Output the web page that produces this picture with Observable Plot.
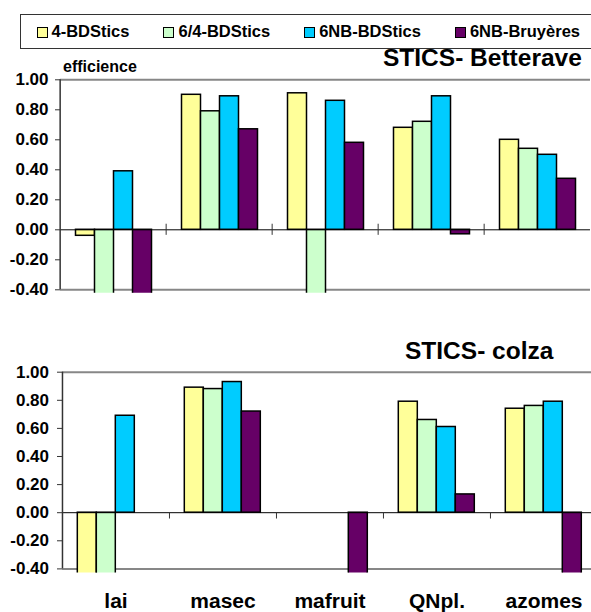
<!DOCTYPE html>
<html>
<head>
<meta charset="utf-8">
<script src="https://cdn.jsdelivr.net/npm/d3@7"></script>
<script src="https://cdn.jsdelivr.net/npm/@observablehq/plot@0.6"></script>
<style>
  body { margin: 0; background: #fff; }
  #page { position: relative; width: 591px; height: 612px; overflow: hidden;
          font-family: "Liberation Sans", Arial, sans-serif; font-weight: bold; color: #000; }
  #page svg { position: absolute; left: 0; }
  .title { position: absolute; white-space: nowrap; line-height: 1; }
  #legend { position: absolute; left: 20px; top: 14px; width: 600px; height: 35px;
            border: 1.5px solid #333; box-sizing: border-box; display: flex; align-items: center;
            padding-left: 15.5px; font-size: 16.5px; }
  .item { display: flex; align-items: center; margin-right: 34px; }
  .sw { width: 9px; height: 9px; border: 1.5px solid #000; margin-right: 4px; margin-top: 1px; }
</style>
</head>
<body>
<div id="page"></div>
<script>
// ---- data ----
const categories = ["lai", "masec", "mafruit", "QNpl.", "azomes"];
const series = ["4-BDStics", "6/4-BDStics", "6NB-BDStics", "6NB-Bruyères"];
const colors = ["#FFFF99", "#CCFFCC", "#00CCFF", "#660066"];
const yTicks = [-0.4, -0.2, 0, 0.2, 0.4, 0.6, 0.8, 1.0];

// STICS- Betterave (values below -0.40 are cut off in the original; estimated)
const betterave_4BD   = [-0.04, 0.90, 0.91, 0.68, 0.60];
const betterave_64BD  = [-1.00, 0.79, -1.00, 0.72, 0.54];
const betterave_6NBBD = [0.39, 0.89, 0.86, 0.89, 0.50];
const betterave_6NBBr = [-1.00, 0.67, 0.58, -0.03, 0.34];

// STICS- colza (null = no bar)
const colza_4BD   = [-1.00, 0.89, null, 0.79, 0.74];
const colza_64BD  = [-1.00, 0.88, null, 0.66, 0.76];
const colza_6NBBD = [0.69, 0.93, null, 0.61, 0.79];
const colza_6NBBr = [null, 0.72, -1.00, 0.13, -1.00];

function toRows(valueLists) {
  return valueLists.flatMap((vals, s) =>
    vals.map((v, c) => ({cat: categories[c], series: series[s], value: v}))
  ).filter(d => d.value != null);
}
const betteraveRows = toRows([betterave_4BD, betterave_64BD, betterave_6NBBD, betterave_6NBBr]);
const colzaRows = toRows([colza_4BD, colza_64BD, colza_6NBBD, colza_6NBBr]);

const FONT = '"Liberation Sans", Arial, sans-serif';

function chart({rows, width, marginLeft, marginTop, marginBottom, pxPerUnit, yMin, tickPadding, zeroTick, labels}) {
  const frameH = (1 - yMin) * pxPerUnit;
  const bw = (width - marginLeft) / categories.length;
  return Plot.plot({
    width, height: marginTop + frameH + marginBottom,
    marginLeft, marginRight: 0, marginTop, marginBottom,
    style: {fontFamily: FONT, fontWeight: "bold", color: "#000", background: "transparent",
            overflow: "visible", maxWidth: "none"},
    fx: {domain: categories, padding: 0, label: null, ...(labels ? {} : {axis: null})},
    x: {domain: series, paddingInner: 0, paddingOuter: 0.74, axis: null},
    y: {domain: [yMin, 1], label: null},
    color: {domain: series, range: colors},
    marks: [
      Plot.ruleY([1, -0.4], {stroke: "#878787", strokeWidth: 2}),
      Plot.barY(rows, {fx: "cat", x: "series", y: "value", fill: "series",
                       stroke: "#000", strokeWidth: 1.5, clip: true}),
      Plot.ruleY([0], {stroke: "#000", strokeWidth: 1}),
      Plot.ruleX(categories.slice(1), {fx: d => d, x: null, y1: zeroTick[0], y2: zeroTick[1],
                                       dx: -bw / 2, stroke: "#333", strokeWidth: 1}),
      Plot.ruleX(categories.slice(0, 1), {fx: d => d, x: null, y1: 1, y2: -0.4,
                                          dx: -bw / 2, stroke: "#333", strokeWidth: 1.5}),
      Plot.axisY(yTicks, {tickSize: 5, tickPadding, label: null,
                          tickFormat: d => d.toFixed(2), fontSize: 17, fontWeight: "bold", stroke: "#333"}),
      labels ? Plot.axisFx({anchor: "bottom", tickSize: 0, tickPadding: 19.5, label: null,
                            fontSize: 21, fontWeight: "bold"}) : null
    ]
  });
}

const page = document.getElementById("page");

// legend
const legend = document.createElement("div");
legend.id = "legend";
series.forEach((s, i) => {
  const item = document.createElement("div");
  item.className = "item";
  const sw = document.createElement("div");
  sw.className = "sw";
  sw.style.background = colors[i];
  const t = document.createElement("span");
  t.textContent = s;
  item.append(sw, t);
  legend.append(item);
});
page.append(legend);

const chartTop = chart({rows: betteraveRows, width: 592, marginLeft: 58.5, marginTop: 19.3, marginBottom: 6,
                   pxPerUnit: 150, yMin: -0.4 - 3.5 / 150, tickPadding: 7,
                   zeroTick: [0.037, -0.037], labels: false});
chartTop.style.top = "60px";
page.append(chartTop);

const chartBottom = chart({rows: colzaRows, width: 597, marginLeft: 61.7, marginTop: 21.7, marginBottom: 50,
                      pxPerUnit: 140.5, yMin: -0.4 - 4.2 / 140.5, tickPadding: 8.5,
                      zeroTick: [0, -0.045], labels: true});
chartBottom.style.top = "350px";
page.append(chartBottom);

function title(text, left, baseline, size) {
  const d = document.createElement("div");
  d.className = "title";
  d.textContent = text;
  d.style.left = left + "px";
  d.style.fontSize = size + "px";
  d.style.top = (baseline - 0.8465 * size) + "px";
  page.append(d);
}
title("STICS- Betterave", 383, 67, 24.5);
title("efficience", 63, 73, 16);
title("STICS- colza", 405, 360, 24.5);
</script>
</body>
</html>
